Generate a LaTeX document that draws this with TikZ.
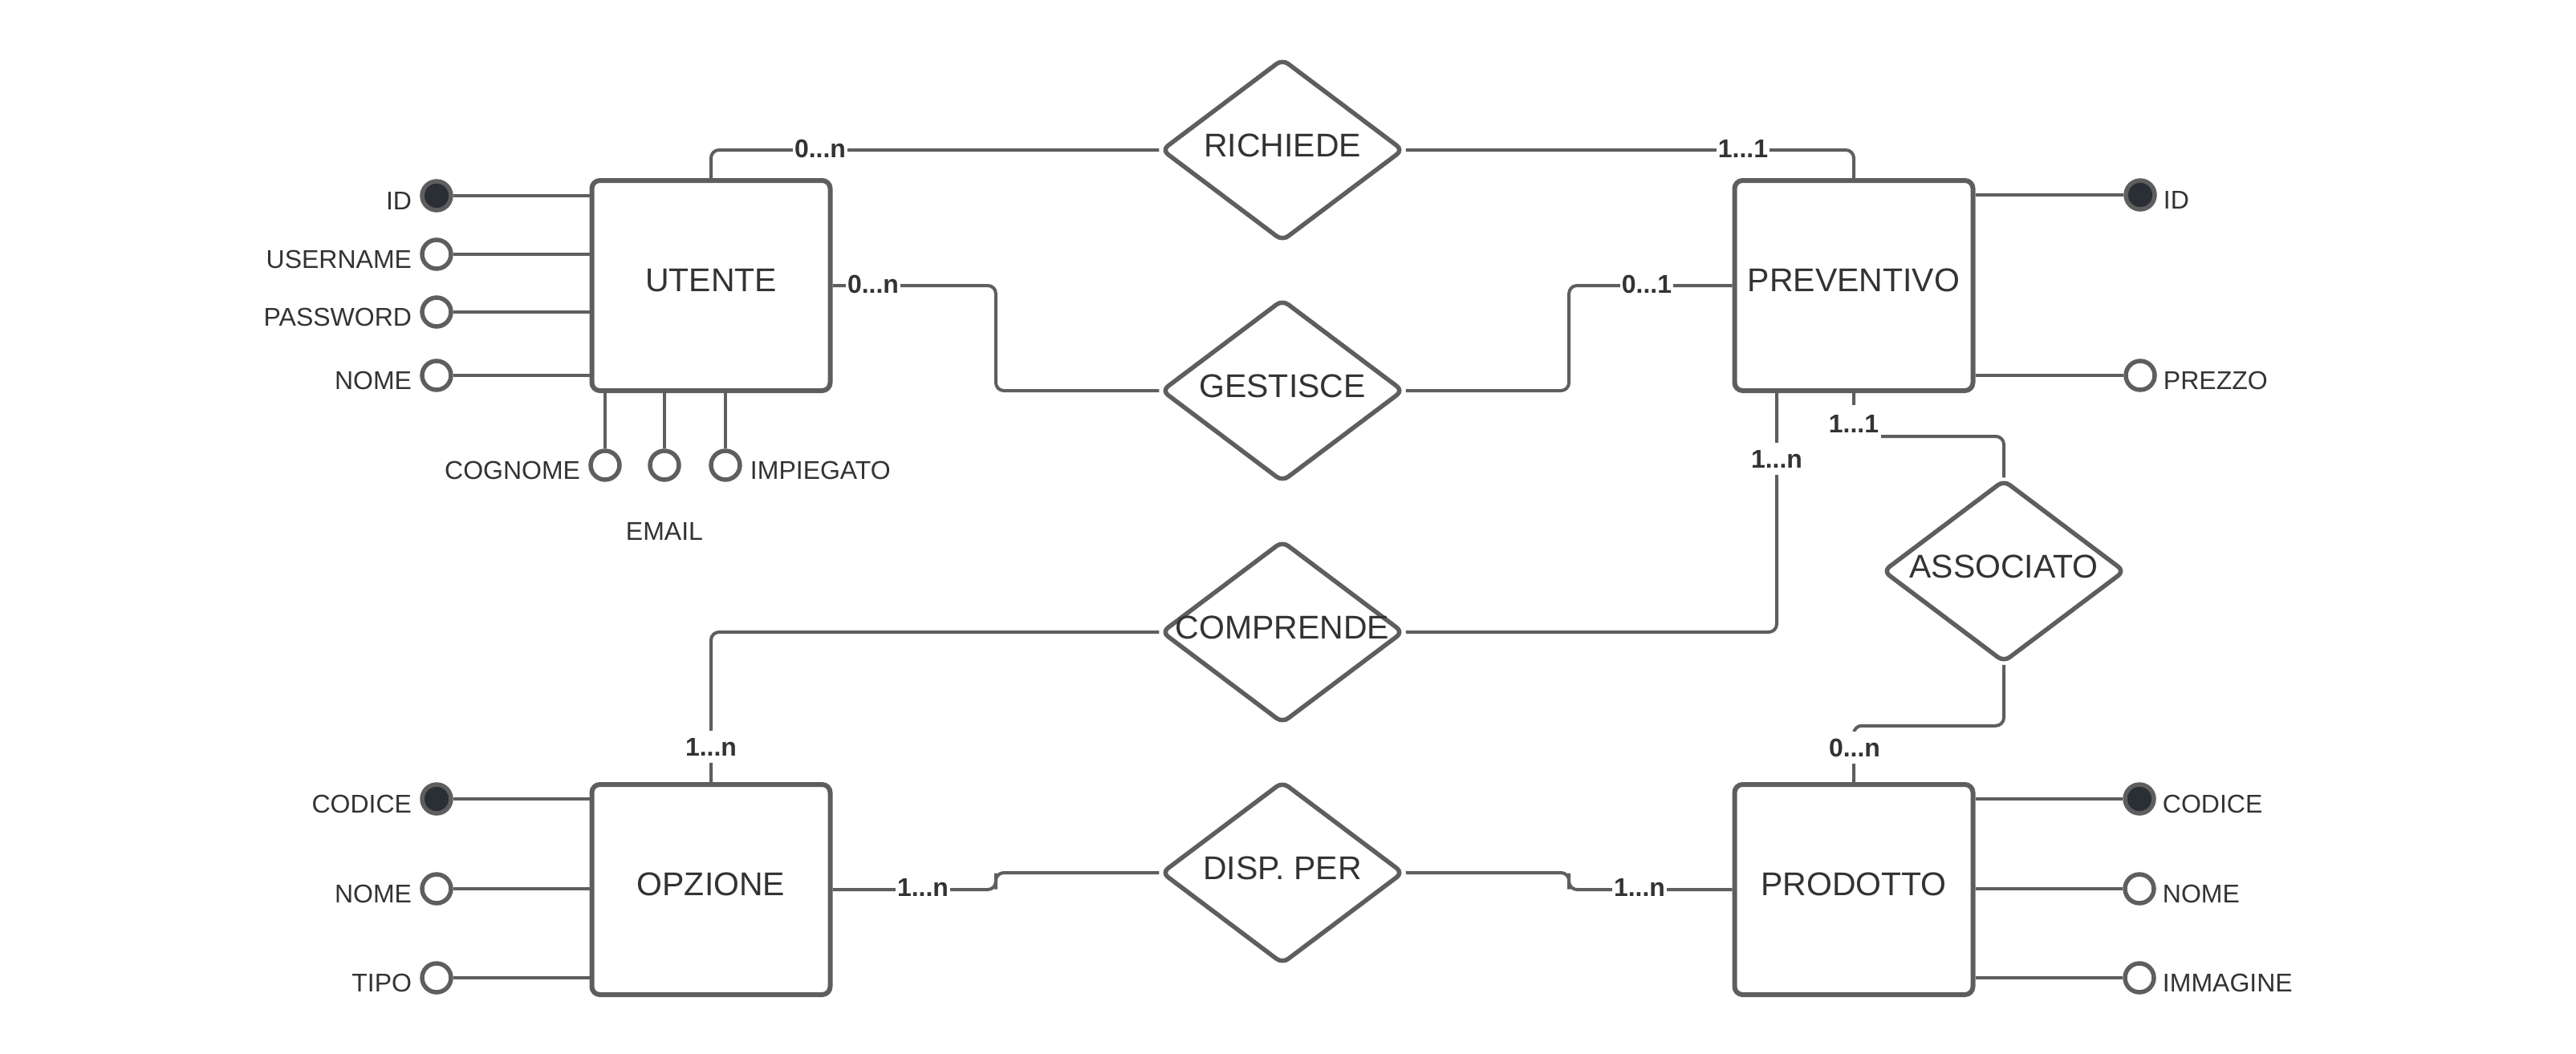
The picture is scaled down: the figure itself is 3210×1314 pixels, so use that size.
\documentclass[tikz,border=0pt]{standalone}
\usepackage{fontspec}
\setmainfont{Liberation Sans}
\usetikzlibrary{shapes.geometric,calc}
\definecolor{lc}{HTML}{5E5E5E}
\definecolor{tc}{HTML}{333333}
\definecolor{kc}{HTML}{2A2E35}
\tikzset{
  ent/.style={draw=lc, line width=6pt, rounded corners=10pt, minimum width=297pt, minimum height=262pt, inner sep=0pt, fill=white, text=tc, font=\fontsize{41pt}{49pt}\selectfont, text height=29.4pt, text depth=15pt},
  rel/.style={diamond, draw=lc, line width=5.5pt, rounded corners=9pt, minimum width=302pt, minimum height=228pt, inner sep=0pt, fill=white, text=tc, font=\fontsize{41pt}{49pt}\selectfont, text height=29.4pt, text depth=12pt},
  attr/.style={circle, draw=lc, line width=5.5pt, minimum size=36pt, inner sep=0pt, fill=white},
  keyattr/.style={attr, fill=kc},
  alab/.style={text=tc, font=\fontsize{32pt}{38pt}\selectfont, inner sep=0pt, text height=23pt, text depth=0pt},
  card/.style={text=tc, font=\bfseries\fontsize{32pt}{38pt}\selectfont, fill=white, inner xsep=2pt, inner ysep=8.5pt, text height=23pt, text depth=0pt},
  conn/.style={draw=lc, line width=4pt, rounded corners=10pt},
  aline/.style={draw=lc, line width=4pt},
}
\newcommand{\zw}[1]{\makebox[0pt]{#1}}
\begin{document}
\begin{tikzpicture}[x=1pt,y=-1pt]
\useasboundingbox[fill=white] (0,0) rectangle (3210,1314);
% entities
\node[ent] (U) at (886,356) {UTENTE};
\node[ent] (P) at (2310,356) {PREVENTIVO};
\node[ent] (O) at (886,1109) {OPZIONE};
\node[ent] (PR) at (2310,1109) {PRODOTTO};
% relationships
\node[rel] (R) at (1598,187) {\zw{RICHIEDE}};
\node[rel] (G) at (1598,487) {\zw{GESTISCE}};
\node[rel] (CO) at (1598,788) {\zw{COMPRENDE}};
\node[rel] (D) at (1598,1088) {\zw{DISP. PER}};
\node[rel] (A) at (2497,712) {\zw{ASSOCIATO}};
% UTENTE attributes
\node[keyattr] (u1) at (544,244) {};
\node[attr] (u2) at (544,317) {};
\node[attr] (u3) at (544,389) {};
\node[attr] (u4) at (544,468) {};
\node[attr] (u5) at (754,580) {};
\node[attr] (u6) at (828,580) {};
\node[attr] (u7) at (904,580) {};
\foreach \n in {u1,u2,u3,u4}{\draw[aline] (\n.east) -- (\n.east -| U.west);}
\foreach \n in {u5,u6,u7}{\draw[aline] (\n.north) -- (\n.north |- U.south);}
\node[alab, anchor=east] (tu1) at ([xshift=-10pt,yshift=-5.5pt]u1.west) {ID};
\node[alab, anchor=east] (tu2) at ([xshift=-10pt,yshift=-5.5pt]u2.west) {USERNAME};
\node[alab, anchor=east] (tu3) at ([xshift=-10pt,yshift=-5.5pt]u3.west) {PASSWORD};
\node[alab, anchor=east] (tu4) at ([xshift=-10pt,yshift=-5.5pt]u4.west) {NOME};
\node[alab, anchor=east] (tu5) at ([xshift=-10pt,yshift=-5.5pt]u5.west) {COGNOME};
\node[alab] (tu6) at (828,662) {EMAIL};
\node[alab, anchor=west] (tu7) at ([xshift=10pt,yshift=-5.5pt]u7.east) {IMPIEGATO};
% PREVENTIVO attributes
\node[keyattr] (p1) at (2667,243) {};
\node[attr] (p2) at (2667,468) {};
\foreach \n in {p1,p2}{\draw[aline] (\n.west) -- (\n.west -| P.east);}
\node[alab, anchor=west] (tp1) at ([xshift=8pt,yshift=-5.5pt]p1.east) {ID};
\node[alab, anchor=west] (tp2) at ([xshift=8pt,yshift=-5.5pt]p2.east) {PREZZO};
% OPZIONE attributes
\node[keyattr] (o1) at (544,996) {};
\node[attr] (o2) at (544,1108) {};
\node[attr] (o3) at (544,1219) {};
\foreach \n in {o1,o2,o3}{\draw[aline] (\n.east) -- (\n.east -| O.west);}
\node[alab, anchor=east] (to1) at ([xshift=-10pt,yshift=-5.5pt]o1.west) {CODICE};
\node[alab, anchor=east] (to2) at ([xshift=-10pt,yshift=-5.5pt]o2.west) {NOME};
\node[alab, anchor=east] (to3) at ([xshift=-10pt,yshift=-5.5pt]o3.west) {TIPO};
% PRODOTTO attributes
\node[keyattr] (r1) at (2666,996) {};
\node[attr] (r2) at (2666,1108) {};
\node[attr] (r3) at (2666,1219) {};
\foreach \n in {r1,r2,r3}{\draw[aline] (\n.west) -- (\n.west -| PR.east);}
\node[alab, anchor=west] (tr1) at ([xshift=8pt,yshift=-5.5pt]r1.east) {CODICE};
\node[alab, anchor=west] (tr2) at ([xshift=8pt,yshift=-5.5pt]r2.east) {NOME};
\node[alab, anchor=west] (tr3) at ([xshift=8pt,yshift=-5.5pt]r3.east) {IMMAGINE};
% connectors
\draw[conn] (U.north) |- (R.west);
\draw[conn] (R.east) -| (P.north);
\draw[conn] (U.east) -| ($(U.east)!.5!(G.west)$) |- (G.west);
\draw[conn] (G.east) -| ($(G.east)!.5!(P.west)$) |- (P.west);
\draw[conn] (CO.west) -| (O.north);
\draw[conn] (CO.east) -| ([xshift=-96pt]P.south);
\draw[conn] (P.south) -- ++(0,54) -| (A.north);
\draw[conn] (A.south) -- ++(0,76) -| (PR.north);
\draw[conn] (O.east) -| ($(O.east)!.5!(D.west)$) |- (D.west);
\draw[conn] (D.east) -| ($(D.east)!.5!(PR.west)$) |- (PR.west);
% cardinalities
\node[card] (c1) at (1022,185) {0...n};
\node[card] (c2) at (2172,185) {1...1};
\node[card] (c3) at (1088,354) {0...n};
\node[card] (c4) at (2052,354) {0...1};
\node[card] (c5) at (886,931) {1...n};
\node[card] (c6) at (2214,572) {1...n};
\node[card, inner ysep=12pt, inner xsep=3pt] (c7) at (2310,528) {1...1};
\node[card] (c8) at (2311,932) {0...n};
\node[card] (c9) at (1150,1106) {1...n};
\node[card] (c10) at (2043,1106) {1...n};
\end{tikzpicture}
\end{document}
